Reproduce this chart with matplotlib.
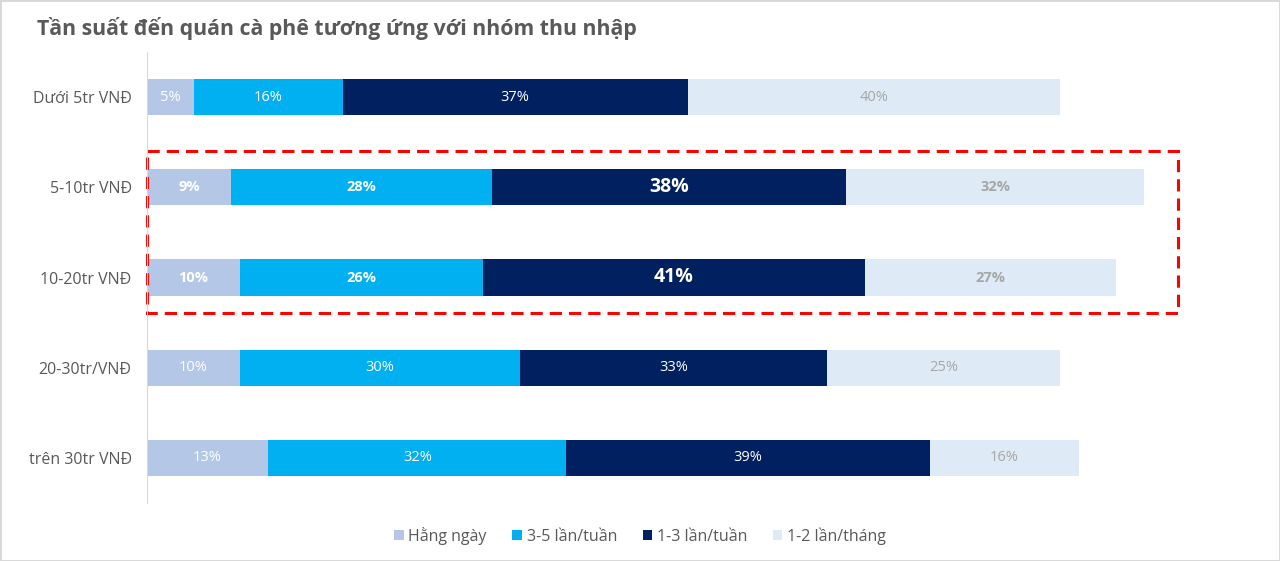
import matplotlib
matplotlib.use("Agg")
import matplotlib.pyplot as plt
from matplotlib.patches import Rectangle
import numpy as np

plt.rcParams['font.family'] = ['Open Sans', 'DejaVu Sans']

groups = ["Dưới 5tr VNĐ", "5-10tr VNĐ", "10-20tr VNĐ", "20-30tr/VNĐ", "trên 30tr VNĐ"]
series = ["Hằng ngày", "3-5 lần/tuần", "1-3 lần/tuần", "1-2 lần/tháng"]
hang_ngay = [5, 9, 10, 10, 13]
tuan_3_5 = [16, 28, 26, 30, 32]
tuan_1_3 = [37, 38, 41, 33, 39]
thang_1_2 = [40, 32, 27, 25, 16]

colors = ["#B4C7E7", "#00B0F0", "#002060", "#DEEBF7"]
label_colors = ["white", "white", "white", "#A6A6A6"]
highlight = [1, 2]  # rows inside the red box

fig = plt.figure(figsize=(12.8, 5.61), dpi=100)
fig.patch.set_edgecolor("#D9D9D9")
fig.patch.set_linewidth(2)
ax = fig.add_axes([147 / 1280, 1 - 503 / 561, (1240 - 147) / 1280, (503 - 52) / 561])

y = np.arange(len(groups))
left = np.zeros(len(groups))
for vals, name, col, lcol in zip([hang_ngay, tuan_3_5, tuan_1_3, thang_1_2], series, colors, label_colors):
    vals = np.array(vals, dtype=float)
    ax.barh(y, vals, left=left, height=0.4, color=col, label=name)
    for i, v in enumerate(vals):
        if i in highlight:
            big = col == "#002060"
            ax.text(left[i] + v / 2, y[i], f"{v:.0f}%", ha="center", va="center",
                    color=lcol, fontsize=14 if big else 10.5, fontweight="bold")
        else:
            ax.text(left[i] + v / 2, y[i], f"{v:.0f}%", ha="center", va="center",
                    color=lcol, fontsize=10.5)
    left += vals

ax.set_xlim(0, (1240 - 147) / 9.32)
ax.set_ylim(4.5, -0.5)
ax.set_yticks(y)
ax.set_yticklabels(groups, fontsize=11.5, color="#595959")
ax.tick_params(axis="y", length=0, pad=11)
ax.set_xticks([])
for s in ["top", "right", "bottom"]:
    ax.spines[s].set_visible(False)
ax.spines["left"].set_color("#D9D9D9")

# red dashed box around the 5-20tr rows
box = Rectangle((0, 0.6), 110.6, 1.79, fill=False, edgecolor="#FF0000",
                linewidth=2.2, linestyle=(0, (4, 2.3)), clip_on=False)
ax.add_patch(box)

fig.text(37 / 1280, 1 - 28 / 561, "Tần suất đến quán cà phê tương ứng với nhóm thu nhập",
         fontsize=15.3, fontweight="bold", color="#595959", va="center")

fig.legend(loc="center", bbox_to_anchor=(0.5, 1 - 536 / 561), ncol=4, frameon=False,
           fontsize=11.5, labelcolor="#595959", handlelength=0.6, handleheight=0.6,
           handletextpad=0.3, columnspacing=1.6)

fig.savefig("out.png", dpi=100, edgecolor=fig.get_edgecolor())
